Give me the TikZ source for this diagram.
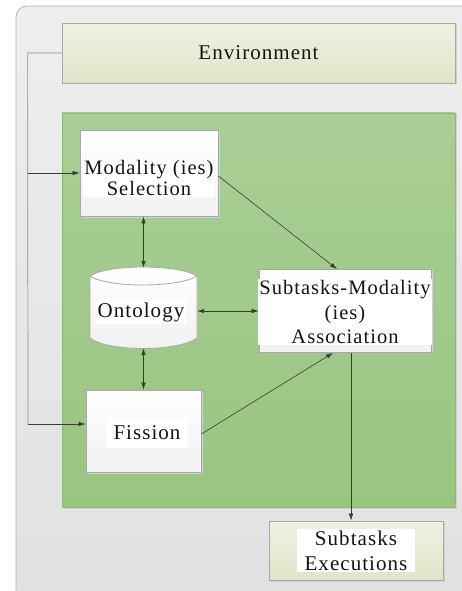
\documentclass[tikz,border=0pt]{standalone}
\usepackage{fontspec}
\setmainfont{Liberation Serif}[LetterSpace=5]
\usetikzlibrary{arrows.meta,calc}
\definecolor{framegray}{HTML}{B4B4B4}
\definecolor{paneltop}{HTML}{EEEEEE}
\definecolor{panelbot}{HTML}{E1E1E1}
\definecolor{envtop}{HTML}{EFF1E2}
\definecolor{envbot}{HTML}{E0E5C9}
\definecolor{greentop}{HTML}{A9CE96}
\definecolor{greenbot}{HTML}{9AC580}
\definecolor{greenedge}{HTML}{8DB777}
\definecolor{boxedge}{HTML}{A8A8A8}
\definecolor{boxshade}{HTML}{F1F1F1}
\definecolor{wire}{HTML}{3A3A3A}
\definecolor{feedwire}{HTML}{8C8C8C}
\tikzset{
  x=1pt, y=-1pt,
  lbl/.style={font=\fontsize{21}{24}\selectfont, align=center, fill=white, inner sep=2pt, text=black!92},
  whitebox/.style={draw=boxedge, line width=0.8pt, top color=white, bottom color=boxshade},
  shadowbox/.style={fill=black!18, draw=none},
  conn/.style={draw=wire, line width=0.6pt, -{Latex[length=7pt,width=4.5pt]}},
  dconn/.style={draw=wire, line width=0.6pt, {Latex[length=7pt,width=4.5pt]}-{Latex[length=7pt,width=4.5pt]}},
  feed/.style={draw=feedwire, line width=0.7pt},
}
\begin{document}
\begin{tikzpicture}
\useasboundingbox (0,0) rectangle (461,591);
% outer panel
\fill[white] (0,0) rectangle (461,591);
\draw[framegray, line width=0.8pt, rounded corners=11pt, top color=paneltop, bottom color=panelbot]
  (16,6) rectangle (475,605);

% environment bar
\fill[shadowbox] (63.5,24.5) rectangle (456.5,84.5);
\node[draw=boxedge, line width=0.8pt, top color=envtop, bottom color=envbot,
      minimum width=393pt, minimum height=60pt, inner sep=0pt,
      font=\fontsize{21}{24}\selectfont, text=black!92] (env) at (258.5,53) {Environment};

% green processing area
\fill[shadowbox] (63.5,114.5) rectangle (456.5,508.5);
\node[draw=greenedge, line width=0.8pt, top color=greentop, bottom color=greenbot,
      minimum width=393pt, minimum height=394pt, inner sep=0pt] (core) at (258.5,310) {};

% modality selection
\fill[shadowbox] (81.5,131.5) rectangle (219.5,217.5);
\node[whitebox, minimum width=138pt, minimum height=86pt, inner sep=0pt] (mod) at (149,173) {};
\node[lbl, font=\fontsize{20.5}{21}\selectfont, inner sep=1pt] at (149,178) {Modality (ies)\\Selection};

% ontology store
\fill[white, top color=white, bottom color=boxshade, draw=boxedge, line width=0.8pt]
  (90,276) .. controls (108,264) and (178,264) .. (197,276)
  -- (197,338) .. controls (178,352) and (108,352) .. (90,338) -- cycle;
\draw[boxedge, line width=0.8pt] (90,276) .. controls (108,288) and (178,288) .. (197,276);
\node[minimum width=107pt, minimum height=80pt, inner sep=0pt] (onto) at (143.5,308) {};
\node[lbl] at (141,312) {Ontology};

% subtasks-modality association
\fill[shadowbox] (260.5,269.5) rectangle (432.5,352.5);
\node[whitebox, minimum width=172pt, minimum height=83pt, inner sep=0pt] (sub) at (345,311) {};
\node[lbl, font=\fontsize{20.5}{24.5}\selectfont, inner sep=1pt] at (345,312) {Subtasks-Modality\\(ies)\\Association};

% fission
\fill[shadowbox] (87.5,391.5) rectangle (202.5,473.5);
\node[whitebox, minimum width=115pt, minimum height=82pt, inner sep=0pt] (fis) at (143.5,431) {};
\node[lbl, inner xsep=8pt, inner ysep=8pt] at (147,433) {Fission};

% subtasks executions
\fill[shadowbox] (270.5,522.5) rectangle (444.5,581.5);
\node[draw=boxedge, line width=0.8pt, top color=envtop, bottom color=envbot,
      minimum width=174pt, minimum height=59pt, inner sep=0pt] (exe) at (356,550.5) {};
\node[lbl, font=\fontsize{21}{25}\selectfont, inner xsep=8pt] at (exe) {Subtasks\\Executions};

% feedback from the environment
\coordinate (fbtop) at ($(env.west)+(-34,0)$);
\coordinate (fbmid) at (fbtop |- mod.west);
\coordinate (fbbot) at (28,424);
\draw[feed] (env.west) -- (fbtop) -- (fbbot);
\draw[conn] (fbmid) -- (mod.west);
\draw[conn] (fbbot) -- (fbbot -| fis.west);

% internal links
\coordinate (modout) at ($(mod.east)+(0,3)$);
\coordinate (subin) at ($(sub.north)+(-8,0)$);
\coordinate (fisout) at ($(fis.east)+(0,3)$);
\coordinate (subin2) at ($(sub.south)+(-12,0)$);
\coordinate (subout) at ($(sub.south)+(6,0)$);
\draw[dconn] (onto.north |- mod.south) -- (onto.north);
\draw[dconn] (onto.south) -- (onto.south |- fis.north);
\draw[dconn] (onto.east |- sub.west) -- (sub.west);
\draw[conn] (modout) -- (subin);
\draw[conn] (fisout) -- (subin2);
\draw[conn] (subout) -- (subout |- exe.north);
\end{tikzpicture}
\end{document}
